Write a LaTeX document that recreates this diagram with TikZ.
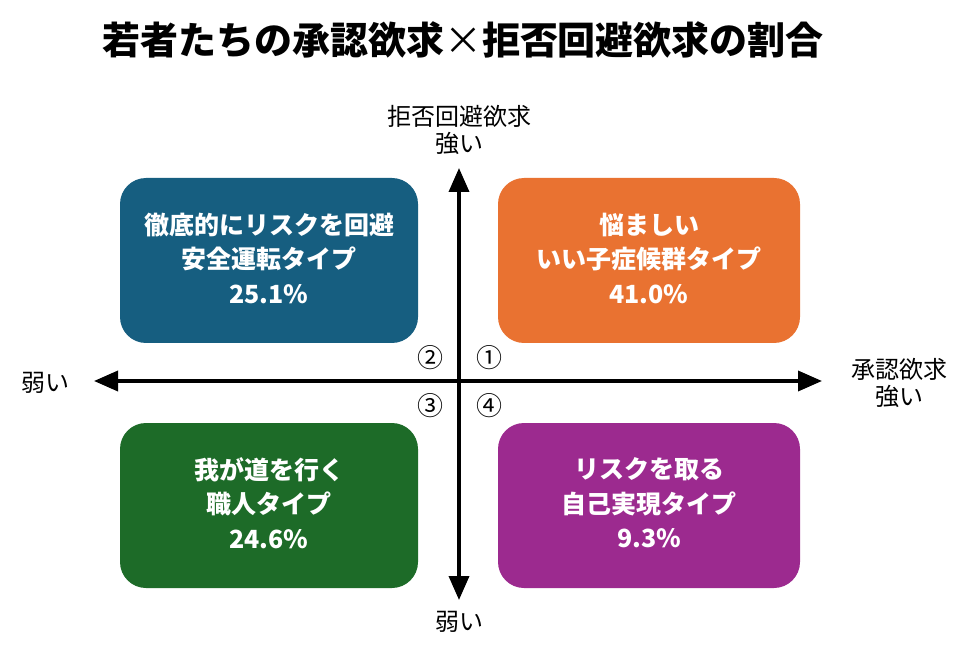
\documentclass[tikz,border=0pt]{standalone}
\usepackage{fontspec}
\setmainfont{Noto Sans CJK JP}
\usetikzlibrary{arrows.meta}
\definecolor{cblue}{HTML}{165E80}
\definecolor{corange}{HTML}{E97231}
\definecolor{cgreen}{HTML}{1D6B28}
\definecolor{cpurple}{HTML}{9C2A8F}
\tikzset{
  quad/.style={rounded corners=26pt, inner sep=0pt},
  qtext/.style={text=white, font=\fontsize{25}{34.5}\selectfont\bfseries, align=center},
  axis/.style={line width=3.6pt, -{Triangle[length=24pt,width=20pt]}},
  alabel/.style={font=\fontsize{24}{27}\selectfont, align=center},
  cnum/.style={font=\fontsize{26}{26}\selectfont}
}
\begin{document}
\begin{tikzpicture}[x=1pt,y=-1pt]
\useasboundingbox (0,0) rectangle (980,660);
\node[font=\fontsize{38}{40}\selectfont\bfseries] (title) at (463,40) {若者たちの承認欲求{\mdseries ×}拒否回避欲求の割合};
\fill[cblue, quad] (120,178) rectangle (418,343);
\fill[corange, quad] (498,178) rectangle (800,343);
\fill[cgreen, quad] (120,423) rectangle (418,588);
\fill[cpurple, quad] (498,423) rectangle (800,588);
\node[qtext] (tl) at (269,258) {徹底的にリスクを回避\\安全運転タイプ\\25.1\%};
\node[qtext] (tr) at (649,258) {悩ましい\\いい子症候群タイプ\\41.0\%};
\node[qtext] (bl) at (269,503) {我が道を行く\\職人タイプ\\24.6\%};
\node[qtext] (br) at (649,503) {リスクを取る\\自己実現タイプ\\9.3\%};
\coordinate (c) at (459,381);
\coordinate (l) at (94,381);
\coordinate (r) at (822,381);
\coordinate (t) at (459,168);
\coordinate (b) at (459,600);
\draw[axis] (c) -- (l);
\draw[axis] (c) -- (r);
\draw[axis] (c) -- (t);
\draw[axis] (c) -- (b);
\node[alabel] (top) at (459,130) {拒否回避欲求\\強い};
\node[alabel] (left) at (45,383) {弱い};
\node[alabel] (right) at (899,383) {承認欲求\\強い};
\node[alabel] (bottom) at (459,622) {弱い};
\node[cnum] (n2) at (430,358) {②};
\node[cnum] (n1) at (489,358) {①};
\node[cnum] (n3) at (430,406) {③};
\node[cnum] (n4) at (489,406) {④};
\end{tikzpicture}
\end{document}
